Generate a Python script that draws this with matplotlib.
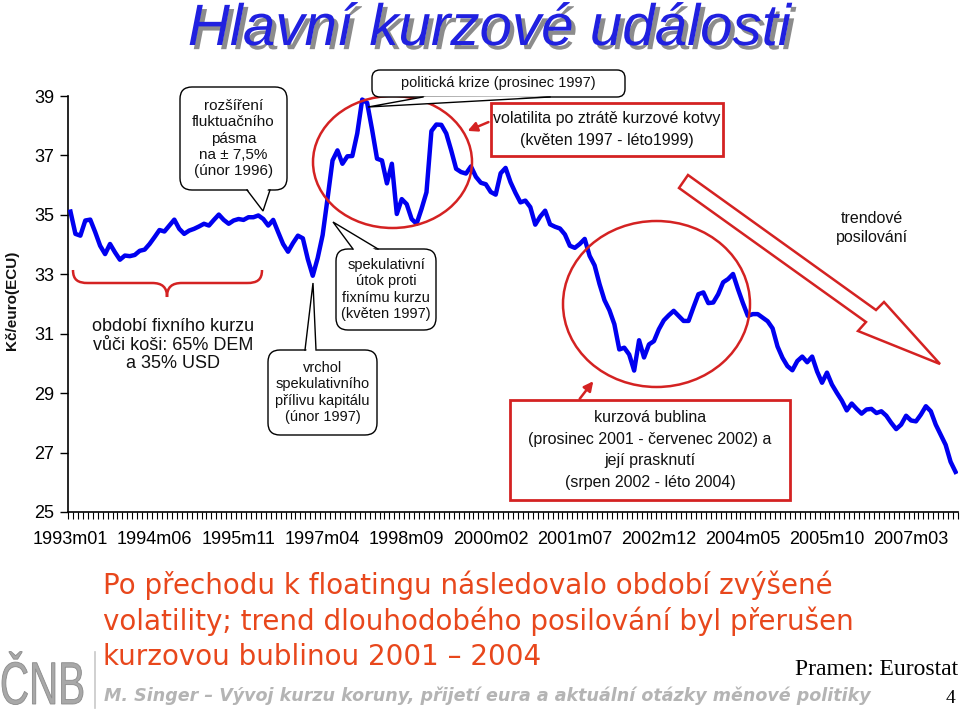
import numpy as np
import matplotlib
matplotlib.use("Agg")
import matplotlib.pyplot as plt
from matplotlib.patches import Ellipse, FancyBboxPatch, Polygon, Rectangle, PathPatch
from matplotlib.path import Path
from matplotlib.textpath import TextPath
from matplotlib.font_manager import FontProperties
from matplotlib.transforms import Affine2D
import matplotlib.patheffects as pe

# ---------------- data ----------------
years = list(range(1993, 2008))
months = [f"{y}m{m:02d}" for y in years for m in range(1, 13)]
kurz = [
    35.11, 34.36, 34.30, 34.81, 34.84, 34.42, 33.96, 33.68, 34.02, 33.74,
    33.49, 33.63, 33.61, 33.65, 33.79, 33.83, 34.02, 34.25, 34.49, 34.44,
    34.64, 34.84, 34.53, 34.36, 34.47, 34.53, 34.61, 34.70, 34.64, 34.83,
    35.01, 34.83, 34.70, 34.81, 34.86, 34.83, 34.92, 34.92, 34.98, 34.86,
    34.64, 34.83, 34.42, 34.02, 33.76, 34.05, 34.30, 34.21, 33.51, 32.95,
    33.55, 34.32, 35.56, 36.83, 37.17, 36.72, 36.97, 36.98, 37.74, 38.88,
    38.77, 37.87, 36.89, 36.83, 36.06, 36.72, 35.03, 35.53, 35.36, 34.86,
    34.70, 35.20, 35.76, 37.82, 38.04, 38.03, 37.74, 37.17, 36.55, 36.44,
    36.39, 36.63, 36.28, 36.08, 36.03, 35.77, 35.68, 36.40, 36.58, 36.10,
    35.74, 35.42, 35.48, 35.26, 34.67, 34.94, 35.14, 34.68, 34.60, 34.54,
    34.34, 33.96, 33.89, 34.02, 34.19, 33.62, 33.30, 32.67, 32.13, 31.79,
    31.32, 30.47, 30.53, 30.30, 29.76, 30.78, 30.20, 30.64, 30.75, 31.15,
    31.45, 31.62, 31.77, 31.60, 31.43, 31.43, 31.89, 32.33, 32.39, 32.03,
    32.05, 32.33, 32.73, 32.84, 33.01, 32.50, 32.03, 31.60, 31.66, 31.66,
    31.54, 31.42, 31.18, 30.57, 30.19, 29.91, 29.77, 30.08, 30.23, 30.04,
    30.23, 29.73, 29.35, 29.69, 29.29, 29.01, 28.75, 28.42, 28.65, 28.47,
    28.31, 28.45, 28.47, 28.33, 28.39, 28.24, 28.00, 27.79, 27.94, 28.24,
    28.08, 28.05, 28.28, 28.56, 28.39, 27.94, 27.60, 27.26, 26.69, 26.35,
]
tick_labels = ["1993m01", "1994m06", "1995m11", "1997m04", "1998m09", "2000m02",
               "2001m07", "2002m12", "2004m05", "2005m10", "2007m03"]
y_ticks = [25, 27, 29, 31, 33, 35, 37, 39]

SANS = ["Liberation Sans", "DejaVu Sans"]
RED = "#d42222"
BLUE = "#0000f0"

plt.rcParams["font.family"] = SANS

W, H = 960, 710
fig = plt.figure(figsize=(W / 100, H / 100), dpi=100)

# ---------------- main chart ----------------
ax = fig.add_axes([68 / W, 1 - 512 / H, 890 / W, 416 / H])
x = np.arange(len(months))
ax.plot(x, kurz, color=BLUE, lw=3.2, solid_joinstyle="round", zorder=3)
ax.set_xlim(-0.5, len(months) - 0.5)
ax.set_ylim(25, 39)
ax.set_yticks(y_ticks)
ax.set_yticklabels([str(v) for v in y_ticks], fontsize=13)
tick_pos = [months.index(t) for t in tick_labels]
ax.set_xticks(tick_pos)
ax.set_xticklabels(tick_labels, fontsize=13)
ax.set_xticks(np.arange(-0.5, len(months), 1), minor=True)
ax.tick_params(axis="x", which="major", length=0, pad=14)
ax.tick_params(axis="x", which="minor", length=5, width=0.8, direction="out")
ax.tick_params(axis="y", which="major", length=6, width=1, direction="out", pad=4)
for s in ["top", "right"]:
    ax.spines[s].set_visible(False)
for s in ["left", "bottom"]:
    ax.spines[s].set_linewidth(1.2)
ax.patch.set_visible(False)

# ---------------- overlay in pixel coordinates ----------------
ov = fig.add_axes([0, 0, 1, 1], zorder=5)
ov.set_xlim(0, W)
ov.set_ylim(H, 0)
ov.axis("off")
ov.patch.set_visible(False)

def callout(x0, y0, x1, y1, b1, b2, tip, text, fs=11, r=12, ls=1.2):
    box = FancyBboxPatch((x0, y0), x1 - x0, y1 - y0,
                         boxstyle=f"round,pad=0,rounding_size={r}",
                         fc="white", ec="black", lw=1.0, zorder=5)
    ov.add_patch(box)
    cx, cy = (x0 + x1) / 2, (y0 + y1) / 2
    def inward(p):
        dx, dy = cx - p[0], cy - p[1]
        d = np.hypot(dx, dy)
        return (p[0] + dx / d * 3, p[1] + dy / d * 3)
    tri = Polygon([inward(b1), tip, inward(b2)], closed=True, fc="white",
                  ec="none", zorder=6)
    ov.add_patch(tri)
    ov.plot([b1[0], tip[0], b2[0]], [b1[1], tip[1], b2[1]], color="black",
            lw=1.0, zorder=7, solid_joinstyle="miter")
    ov.text(cx, cy, text, ha="center", va="center", fontsize=fs,
            linespacing=ls, zorder=8, color="#111111")

callout(180, 87, 287, 190, (247, 190), (270, 190), (263, 211),
        "rozšíření\nfluktuačního\npásma\nna ± 7,5%\n(únor 1996)", fs=11)
callout(372, 70, 625, 97, (423, 97), (550, 97), (368, 107),
        "politická krize (prosinec 1997)", fs=10.5, r=8)
callout(336, 249, 436, 330, (353, 249), (378, 249), (333, 222),
        "spekulativní\nútok proti\nfixnímu kurzu\n(květen 1997)", fs=10.5)
callout(268, 350, 377, 435, (305, 350), (316, 350), (313, 283),
        "vrchol\nspekulativního\npřílivu kapitálu\n(únor 1997)", fs=10.5)

# red ellipses
ov.add_patch(Ellipse((392.5, 162), 159, 132, fill=False, ec=RED, lw=1.8, zorder=4))
ov.add_patch(Ellipse((656.5, 304), 187, 166, fill=False, ec=RED, lw=1.8, zorder=4))

# red boxes
ov.add_patch(Rectangle((491, 103), 232, 53, fc="white", ec=RED, lw=2, zorder=5))
ov.text(607, 129.5, "volatilita po ztrátě kurzové kotvy\n(květen 1997 - léto1999)",
        ha="center", va="center", fontsize=11.5, linespacing=1.5, zorder=8, color="#111111")
ov.add_patch(Rectangle((510, 400), 280, 100, fc="white", ec=RED, lw=2, zorder=5))
ov.text(650, 450, "kurzová bublina\n(prosinec 2001 - červenec 2002) a\njejí prasknutí\n(srpen 2002 - léto 2004)",
        ha="center", va="center", fontsize=11.5, linespacing=1.55, zorder=8, color="#111111")

# red arrows
ov.annotate("", xy=(465, 132), xytext=(491, 121),
            arrowprops=dict(arrowstyle="-|>", color=RED, lw=1.8, mutation_scale=14), zorder=6)
ov.annotate("", xy=(595, 379), xytext=(578, 401),
            arrowprops=dict(arrowstyle="-|>", color=RED, lw=1.8, mutation_scale=14), zorder=6)

# trend arrow (hollow)
ov.add_patch(Polygon([(688, 175), (876, 310), (884, 302), (940, 364),
                      (858, 331), (866, 322), (679, 188)], closed=True,
                     fc="none", ec=RED, lw=1.8, zorder=4))
ov.text(872, 228, "trendové\nposilování", ha="center", va="center",
        fontsize=11.5, linespacing=1.4, color="#111111", zorder=8)

# brace
verts = [(73, 270), (73, 280), (78, 283), (88, 283), (152, 283),
         (162, 283), (167, 287), (167, 297), (167, 287), (172, 283), (182, 283),
         (247, 283), (257, 283), (262, 280), (262, 270)]
codes = [Path.MOVETO, Path.CURVE4, Path.CURVE4, Path.CURVE4, Path.LINETO,
         Path.CURVE4, Path.CURVE4, Path.CURVE4, Path.CURVE4, Path.CURVE4, Path.CURVE4,
         Path.LINETO, Path.CURVE4, Path.CURVE4, Path.CURVE4]
ov.add_patch(PathPatch(Path(verts, codes), fc="none", ec=RED, lw=1.8, zorder=4))
ov.text(173, 345, "období fixního kurzu\nvůči koši: 65% DEM\na 35% USD",
        ha="center", va="center", fontsize=13, linespacing=1.15, color="#111111")

# y label
ov.text(12, 300, "Kč/euro(ECU)", rotation=90, ha="center", va="center",
        fontsize=11, fontweight="bold", color="#111111")

# title with shadow
ov.text(490, 30, "Hlavní kurzové události", ha="center", va="center",
        fontsize=42, style="italic", color="#2020e0", zorder=9,
        path_effects=[pe.withSimplePatchShadow(offset=(3, -3), shadow_rgbFace="#8c8c8c", alpha=1.0)])

# bottom texts
ORANGE = "#e8471c"
for yb, line in [(594, "Po přechodu k floatingu následovalo období zvýšené"),
                 (630, "volatility; trend dlouhodobého posilování byl přerušen"),
                 (665, "kurzovou bublinou 2001 – 2004")]:
    ov.text(103, yb, line, ha="left", va="baseline", fontsize=20,
            color=ORANGE, family=["DejaVu Sans"])
ov.text(958, 675, "Pramen: Eurostat", ha="right", va="baseline", fontsize=17,
        family=["Liberation Serif", "DejaVu Serif"], color="black")
ov.text(104, 701, "M. Singer – Vývoj kurzu koruny, přijetí eura a aktuální otázky měnové politiky",
        ha="left", va="baseline", fontsize=12.6, fontweight="bold", style="italic",
        color="#b4b4b4", family=["DejaVu Sans"])
ov.text(950, 703, "4", ha="center", va="baseline", fontsize=14,
        family=["Liberation Serif", "DejaVu Serif"], color="black")

# logo (condensed text path)
tp = TextPath((0, 0), "ČNB", size=60, prop=FontProperties(family="Liberation Sans"))
ext = tp.get_extents()
sx = 81 / ext.width
tr = Affine2D().translate(-ext.x0, 0).scale(sx, -1.0).translate(2, 704)
ov.add_patch(PathPatch(tr.transform_path(tp), fc="#a8a8a8", ec="#8a8a8a", lw=0.6, zorder=8))
ov.plot([95, 95], [652, 708], color="#c8c8c8", lw=1.2)

fig.savefig("out.png", dpi=100)
